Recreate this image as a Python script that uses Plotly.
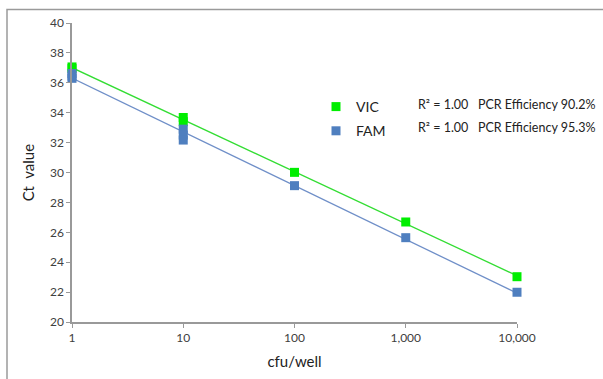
import numpy as np
import plotly.graph_objects as go

# Data
cfu_vic = [1, 1, 10, 10, 100, 1000, 10000]
ct_vic = [37.06, 36.95, 33.68, 33.40, 30.01, 26.69, 23.03]
cfu_fam = [1, 1, 1, 10, 10, 10, 100, 1000, 10000]
ct_fam = [36.62, 36.45, 36.30, 32.90, 32.50, 32.17, 29.12, 25.64, 21.99]
tick_vals = [1, 10, 100, 1000, 10000]
tick_text = ["1", "10", "100", "1,000", "10,000"]
y_ticks = [20, 22, 24, 26, 28, 30, 32, 34, 36, 38, 40]
labels = ["VIC", "FAM"]
annot_text = ["R² = 1.00   PCR Efficiency 90.2%", "R² = 1.00   PCR Efficiency 95.3%"]

marker_colors = ["#00ee00", "#4f7fbf"]
line_colors = ["#33dd33", "#6f8fc8"]

FONT = "Lato, Liberation Sans, sans-serif"

fig = go.Figure()

series = [(cfu_vic, ct_vic), (cfu_fam, ct_fam)]
# trend lines
for i, (xs, ys) in enumerate(series):
    lx = np.log10(np.array(xs, dtype=float))
    k, b = np.polyfit(lx, np.array(ys, dtype=float), 1)
    xl = np.array([min(xs), max(xs)], dtype=float)
    fig.add_trace(go.Scatter(x=xl, y=k * np.log10(xl) + b, mode="lines",
                             line=dict(color=line_colors[i], width=1.3),
                             showlegend=False, hoverinfo="skip", cliponaxis=False))
# markers
for i, (xs, ys) in enumerate(series):
    fig.add_trace(go.Scatter(x=xs, y=ys, mode="markers", name=labels[i],
                             legendgroup=labels[i], cliponaxis=False,
                             marker=dict(symbol="square", size=9, color=marker_colors[i])))

L, R, T, B = 72, 86, 23, 57
W, H = 603, 379
pw, ph = W - L - R, H - T - B

def px(xp):
    return (xp - L) / pw

def py(yp):
    return (H - B - yp) / ph

for j, txt in enumerate(annot_text):
    fig.add_annotation(x=px(416), y=py(104 + 23 * j), xref="paper", yref="paper",
                       text=txt, showarrow=False, xanchor="left", yanchor="middle",
                       font=dict(size=12.5, color="#222222", family=FONT))

fig.add_shape(type="rect", xref="paper", yref="paper",
              x0=px(7), x1=px(615), y0=py(385), y1=py(9.5),
              line=dict(color="#9a9a9a", width=1.5), layer="below")

fig.update_layout(
    width=W, height=H,
    margin=dict(l=L, r=R, t=T, b=B),
    paper_bgcolor="white", plot_bgcolor="white",
    font=dict(family=FONT, color="#404040", size=11),
    legend=dict(x=px(316), y=py(91), xanchor="left", yanchor="top",
                font=dict(size=14, color="#222222"), tracegroupgap=3,
                bgcolor="rgba(0,0,0,0)", itemwidth=30),
    xaxis=dict(type="log", range=[0, 4], tickvals=tick_vals, ticktext=tick_text,
               showgrid=False, zeroline=False, showline=True, linecolor="#999999",
               linewidth=1.5, ticks="outside", ticklen=4, tickcolor="#999999",
               tickfont=dict(size=12, color="#404040"),
               title=dict(text="cfu/well", font=dict(size=15, color="#222222"), standoff=12)),
    yaxis=dict(range=[20, 40], tickvals=y_ticks, showgrid=False, zeroline=False,
               showline=True, linecolor="#999999", linewidth=1.5, ticks="outside",
               ticklen=4, tickcolor="#999999", tickfont=dict(size=12, color="#404040"),
               title=dict(text="Ct  value", font=dict(size=15, color="#222222"), standoff=12)),
)

fig.write_html("out.html")
